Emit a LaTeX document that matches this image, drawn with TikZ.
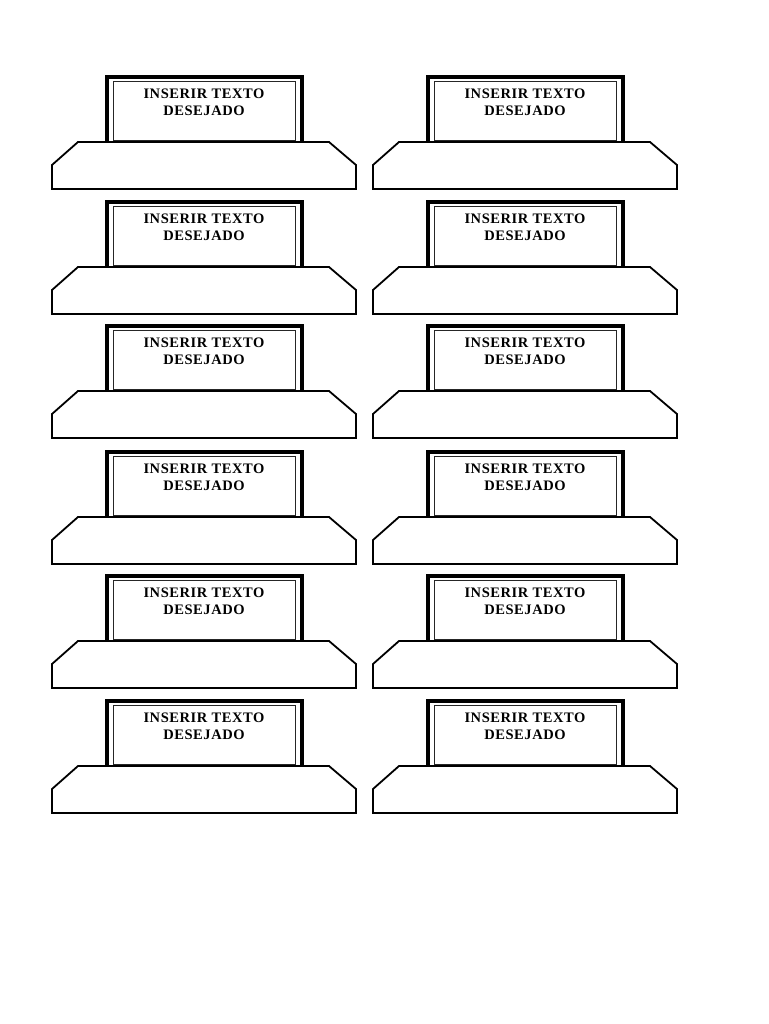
\documentclass[tikz,border=0pt]{standalone}
\usepackage{fontspec}
\setmainfont{Liberation Serif}
\newfontfamily\labelfont[LetterSpace=4]{Liberation Serif}
\begin{document}
\begin{tikzpicture}[x=1pt,y=-1pt,
  baseline/.style={line width=1.8pt,line join=miter},
  frameline/.style={line width=4pt,line join=miter},
  innerbox/.style={line width=0.8pt,draw=black!85},
  labeltext/.style={font=\labelfont\bfseries\fontsize{14.5}{17}\selectfont,align=center,inner sep=0pt},
  placa/.pic={
    \draw[baseline] (97,65) -- (-29,65) -- (-55,88) -- (-55,112) -- (249,112) -- (249,88) -- (222,65) -- (97,65);
    \draw[frameline] (0,65) -- (0,0) -- (195,0) -- (195,65);
    \draw[innerbox] (6,4) rectangle (188,63);
    \node[labeltext] (-txt) at (97,25) {INSERIR TEXTO\\DESEJADO};
  }]
\fill[white] (0,0) rectangle (768,1024);
\useasboundingbox (0,0) rectangle (768,1024);
\pic (l1) at (107,77) {placa};
\pic (r1) at (428,77) {placa};
\pic (l2) at (107,202) {placa};
\pic (r2) at (428,202) {placa};
\pic (l3) at (107,326) {placa};
\pic (r3) at (428,326) {placa};
\pic (l4) at (107,452) {placa};
\pic (r4) at (428,452) {placa};
\pic (l5) at (107,576) {placa};
\pic (r5) at (428,576) {placa};
\pic (l6) at (107,701) {placa};
\pic (r6) at (428,701) {placa};
\end{tikzpicture}
\end{document}
